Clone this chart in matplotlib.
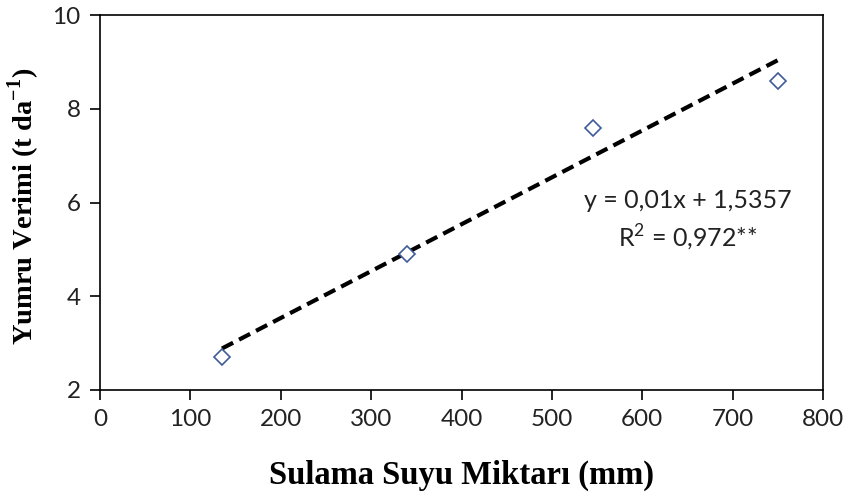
import numpy as np
from matplotlib import pyplot as plt

# Sulama suyu miktari (mm) ve yumru verimi (t/da)
su = [135, 340, 545, 750]
verim = [2.7, 4.9, 7.6, 8.6]
egim = 0.01
kesisim = 1.5357
x_ticks = [0, 100, 200, 300, 400, 500, 600, 700, 800]
y_ticks = [2, 4, 6, 8, 10]

fig = plt.figure(figsize=(8.49, 4.97), dpi=100)
ax = fig.add_axes([100 / 849, 1 - 390 / 497, 723 / 849, 375 / 497])

# trend cizgisi
xt = np.array([min(su), max(su)])
ax.plot(xt, egim * xt + kesisim, color="black", linestyle=(0, (3, 1.6)), linewidth=3)
ax.plot(su, verim, linestyle="none", marker="D", markersize=8,
        markerfacecolor="white", markeredgecolor="#3F5B9A", markeredgewidth=1.2)

ax.set_xlim(0, 800)
ax.set_ylim(2, 10)
ax.set_xticks(x_ticks)
ax.set_yticks(y_ticks)
ax.tick_params(direction="out", length=7, width=1.2, labelsize=17.5, pad=7)
for lab in ax.get_xticklabels() + ax.get_yticklabels():
    lab.set_fontfamily("Lato")
    lab.set_color("#222222")
for s in ax.spines.values():
    s.set_linewidth(1.2)

ax.set_xlabel("Sulama Suyu Miktarı (mm)", fontfamily="Liberation Serif",
              fontweight="bold", fontsize=23.5)
ax.set_ylabel("Yumru Verimi (t da$^{\\mathregular{-1}}$)", fontfamily="Liberation Serif",
              fontweight="bold", fontsize=20.5)
ax.xaxis.set_label_coords(0.5, -0.185)
ax.yaxis.set_label_coords(-0.08, 0.49)

ax.text(650, 5.6, "y = 0,01x + 1,5357\nR$^{\\mathregular{2}}$ = 0,972**", ha="center", va="center",
        fontfamily="Lato", fontsize=18, color="#222222", linespacing=1.45)

plt.savefig("out.png", dpi=100)
